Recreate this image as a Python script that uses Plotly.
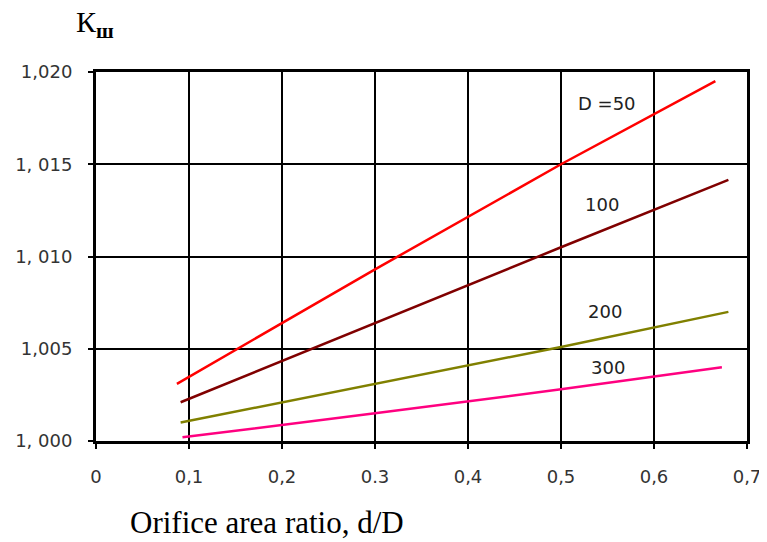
import plotly.graph_objects as go

# Data
x_tick_vals = [0, 0.1, 0.2, 0.3, 0.4, 0.5, 0.6, 0.7]
x_tick_text = ["0", "0,1", "0,2", "0.3", "0,4", "0,5", "0,6", "0,7"]
y_tick_vals = [1.000, 1.005, 1.010, 1.015, 1.020]
y_tick_text = ["1, 000", "1,005", "1, 010", "1, 015", "1,020"]

x_d50 = [0.087, 0.3, 0.5, 0.666]
y_d50 = [1.0031, 1.0093, 1.0150, 1.0195]
x_d100 = [0.091, 0.3, 0.5, 0.680]
y_d100 = [1.0021, 1.0064, 1.0105, 1.01415]
x_d200 = [0.091, 0.3, 0.5, 0.680]
y_d200 = [1.0010, 1.0031, 1.0051, 1.0070]
x_d300 = [0.093, 0.3, 0.5, 0.673]
y_d300 = [1.0002, 1.0015, 1.0028, 1.0040]

series = [
    ("D =50", x_d50, y_d50, "#ff0000", 0.549, 1.01832),
    ("100", x_d100, y_d100, "#800000", 0.544, 1.0128),
    ("200", x_d200, y_d200, "#808000", 0.547, 1.0070),
    ("300", x_d300, y_d300, "#ff0080", 0.551, 1.0040),
]

fig = go.Figure()
for name, xs, ys, color, lx, ly in series:
    fig.add_trace(go.Scatter(x=xs, y=ys, mode="lines", name=name,
                             line=dict(color=color, width=2.5)))
    fig.add_annotation(x=lx, y=ly, xref="x", yref="y", text=name,
                       showarrow=False,
                       font=dict(family="DejaVu Sans", size=18, color="#222"))

fig.add_annotation(x=0.049, y=-0.222, xref="paper", yref="paper",
                   xanchor="left", yanchor="middle", showarrow=False,
                   text="Orifice area ratio, d/D",
                   font=dict(family="Liberation Serif", size=31, color="#000"))
fig.add_annotation(x=-0.002, y=1.13, xref="paper", yref="paper",
                   xanchor="center", yanchor="middle", showarrow=False,
                   text="К<b><sub>ш</sub></b>",
                   font=dict(family="Liberation Serif", size=30, color="#000"))

axis_common = dict(showgrid=True, gridcolor="#000", gridwidth=1.5,
                   showline=True, linecolor="#000", linewidth=3, mirror=True,
                   ticks="outside", ticklen=5, tickcolor="#000", tickwidth=1.5,
                   zeroline=False, automargin=False,
                   tickfont=dict(family="DejaVu Sans", size=18, color="#333"))

fig.update_xaxes(range=[0, 0.7], tickvals=x_tick_vals, ticktext=x_tick_text,
                 ticklabelstandoff=12, **axis_common)
fig.update_yaxes(range=[1.000, 1.020], tickvals=y_tick_vals, ticktext=y_tick_text,
                 ticklabelstandoff=12, **axis_common)

# The page body adds an 8px offset, so the figure is sized to fill the rest.
fig.update_layout(width=759, height=534, showlegend=False,
                  margin=dict(l=88, r=20, t=64, b=101),
                  plot_bgcolor="white", paper_bgcolor="white")

fig.write_html("out.html")
